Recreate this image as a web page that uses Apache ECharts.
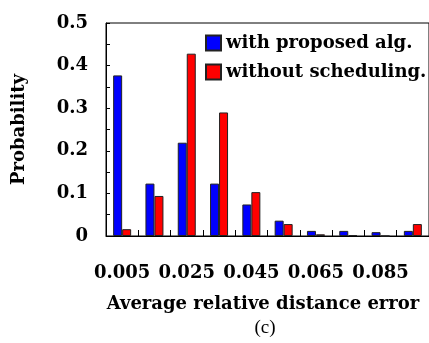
<!DOCTYPE html>
<html><head><meta charset="utf-8">
<script src="https://cdn.jsdelivr.net/npm/echarts@6/dist/echarts.min.js"></script>
<style>html,body{margin:0;padding:0;background:#fff}#c{width:429px;height:343px}</style>
</head><body><div id="c"></div>
<script>
const categories = ['0.005','0.015','0.025','0.035','0.045','0.055','0.065','0.075','0.085','0.095'];
const withProposed = [0.377,0.123,0.219,0.123,0.074,0.036,0.012,0.012,0.009,0.012];
const withoutScheduling = [0.016,0.094,0.428,0.290,0.103,0.028,0.004,0.002,0,0.028];
const seriesNames = ['with proposed alg.','without scheduling.'];
const xAxisTitle = 'Average relative distance error';
const yAxisTitle = 'Probability';
const caption = '(c)';

const FONT = 'DejaVu Serif';
const chart = echarts.init(document.getElementById('c'), null, {renderer:'canvas'});
chart.setOption({
  animation:false,
  backgroundColor:'#fff',
  grid:{left:106, top:23, right:-2, bottom:107, show:true, borderColor:'#000', borderWidth:1, backgroundColor:'transparent'},
  legend:{
    orient:'vertical', left:205, top:34, padding:0, itemWidth:15, itemHeight:15, itemGap:11, icon:'rect',
    textStyle:{fontFamily:FONT, fontWeight:'bold', fontSize:18, color:'#000'},
    data:seriesNames
  },
  xAxis:{
    type:'category', data:categories,
    axisLine:{lineStyle:{color:'#000', width:1}},
    axisTick:{show:true, inside:true, length:6, interval:0, alignWithLabel:false, lineStyle:{color:'#000'}},
    axisLabel:{interval:1, margin:28, fontFamily:FONT, fontWeight:'bold', fontSize:18, color:'#000'},
    splitLine:{show:false}
  },
  yAxis:{
    type:'value', min:0, max:0.5, interval:0.1,
    name:yAxisTitle, nameLocation:'middle', nameGap:78, nameRotate:90,
    nameTextStyle:{fontFamily:FONT, fontWeight:'bold', fontSize:18, color:'#000'},
    axisLine:{show:true, lineStyle:{color:'#000', width:1}},
    axisTick:{show:true, inside:true, length:4, lineStyle:{color:'#000'}},
    minorTick:{show:true, splitNumber:2, length:4, lineStyle:{color:'#000'}},
    axisLabel:{margin:18, fontFamily:FONT, fontWeight:'bold', fontSize:18, color:'#000'},
    splitLine:{show:false}
  },
  graphic:[
    {type:'text', x:263, y:304, style:{text:xAxisTitle, fontFamily:FONT, fontWeight:'bold', fontSize:18, fill:'#000', align:'center', verticalAlign:'middle'}},
    {type:'text', x:265, y:328, style:{text:caption, fontFamily:'Liberation Serif', fontSize:19, fill:'#000', align:'center', verticalAlign:'middle'}}
  ],
  series:[
    {name:seriesNames[0], type:'bar', data:withProposed, barWidth:9, barGap:0,
     itemStyle:{color:'#0000ff', borderColor:'#222', borderWidth:1}},
    {name:seriesNames[1], type:'bar', data:withoutScheduling, barWidth:9, barGap:0,
     itemStyle:{color:'#ff0000', borderColor:'#222', borderWidth:1}}
  ]
});
</script></body></html>
